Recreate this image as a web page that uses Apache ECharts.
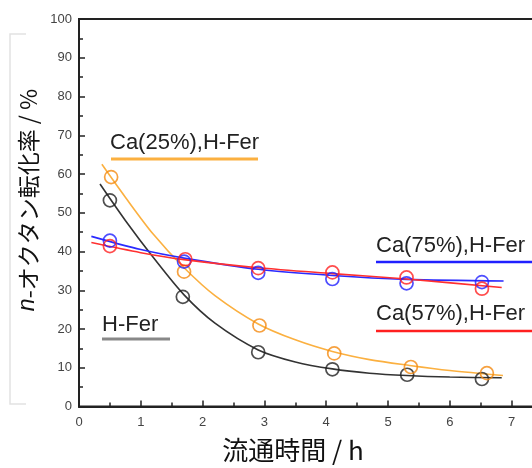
<!DOCTYPE html>
<html lang="ja">
<head>
    <meta charset="UTF-8">
    <title>n-オクタン転化率</title>
    <script src="https://cdn.jsdelivr.net/npm/echarts@6.0.0/dist/echarts.min.js"></script>
    <style>
        * { margin: 0; padding: 0; }
        body { background: #fff; }
        #chart { width: 532px; height: 468px; }
    </style>
</head>
<body>
<div id="chart"></div>
<script>
    // 測定点 (流通時間 h, 転化率 %)
    const hferX = [0.5, 1.68, 2.9, 4.1, 5.31, 6.52];
    const hferY = [53.2, 28.3, 14.0, 9.6, 8.2, 7.1];
    const ca25X = [0.52, 1.7, 2.92, 4.13, 5.37, 6.6];
    const ca25Y = [59.2, 34.8, 20.9, 13.7, 10.2, 8.6];
    const ca75X = [0.5, 1.7, 2.9, 4.1, 5.3, 6.52];
    const ca75Y = [42.8, 37.4, 34.5, 32.9, 31.8, 32.1];
    const ca57X = [0.5, 1.72, 2.9, 4.1, 5.3, 6.52];
    const ca57Y = [41.4, 38.0, 35.7, 34.6, 33.3, 30.4];

    // 近似曲線
    const hferFitX = [0.34, 0.75, 1.2, 1.7, 2.2, 2.9, 3.5, 4.1, 4.7, 5.3, 6.0, 6.84];
    const hferFitY = [57.4, 48.0, 38.5, 28.8, 21.5, 14.6, 11.5, 9.7, 8.6, 8.0, 7.6, 7.4];
    const ca25FitX = [0.37, 0.75, 1.2, 1.7, 2.2, 2.9, 3.5, 4.1, 4.7, 5.35, 6.0, 6.86];
    const ca25FitY = [62.5, 54.0, 44.5, 35.8, 28.6, 21.3, 17.2, 14.2, 12.1, 10.6, 9.3, 8.0];
    const ca75FitX = [0.2, 1.0, 1.7, 2.9, 4.1, 5.3, 6.87];
    const ca75FitY = [43.9, 40.5, 38.3, 35.4, 33.8, 32.8, 32.4];
    const ca57FitX = [0.2, 1.0, 1.7, 2.9, 4.1, 5.3, 6.84];
    const ca57FitY = [42.3, 39.7, 37.9, 35.8, 34.3, 32.9, 30.7];

    const xTicks = [0, 1, 2, 3, 4, 5, 6, 7, 8];
    const yTicks = [0, 10, 20, 30, 40, 50, 60, 70, 80, 90, 100];

    function pairs(xs, ys) {
        return xs.map(function (x, i) { return [x, ys[i]]; });
    }

    function points(name, xs, ys, color) {
        return {
            name: name,
            type: 'scatter',
            symbol: 'circle',
            symbolSize: 13,
            itemStyle: {color: 'rgba(0,0,0,0)', borderColor: color, borderWidth: 1.7},
            data: pairs(xs, ys),
            z: 3
        };
    }

    function curve(name, xs, ys, color) {
        return {
            name: name,
            type: 'line',
            smooth: 0.3,
            showSymbol: false,
            lineStyle: {color: color, width: 1.6},
            data: pairs(xs, ys),
            z: 2
        };
    }

    const labelFont = 'Liberation Sans, Arial, sans-serif';
    const jpFont = 'Noto Sans CJK JP, sans-serif';

    let chart = echarts.init(document.getElementById('chart'));

    let option = {
        animation: false,
        grid: {
            left: 79, top: 19, width: 494.4, height: 387.5,
            show: true, borderColor: '#222', borderWidth: 2,
            outerBoundsMode: 'none'
        },
        xAxis: {
            type: 'value', min: xTicks[0], max: xTicks[xTicks.length - 1], interval: 1,
            axisLine: {lineStyle: {color: '#222', width: 2}},
            axisTick: {inside: true, length: 6, lineStyle: {color: '#222', width: 1.5}},
            minorTick: {show: true, splitNumber: 2, length: 4, lineStyle: {color: '#222', width: 1.5}},
            splitLine: {show: false},
            axisLabel: {color: '#444', fontSize: 13, fontFamily: labelFont, margin: 9}
        },
        yAxis: {
            type: 'value', min: yTicks[0], max: yTicks[yTicks.length - 1], interval: 10,
            axisLine: {lineStyle: {color: '#222', width: 2}},
            axisTick: {inside: true, length: 6, lineStyle: {color: '#222', width: 1.5}},
            minorTick: {show: true, splitNumber: 2, length: 4, lineStyle: {color: '#222', width: 1.5}},
            splitLine: {show: false},
            axisLabel: {color: '#444', fontSize: 13, fontFamily: labelFont, margin: 7}
        },
        series: [
            curve('H-Fer fit', hferFitX, hferFitY, '#333'),
            curve('Ca(25%) fit', ca25FitX, ca25FitY, '#fbb040'),
            curve('Ca(75%) fit', ca75FitX, ca75FitY, '#2a2aff'),
            curve('Ca(57%) fit', ca57FitX, ca57FitY, '#ff3030'),
            points('H-Fer', hferX, hferY, '#222'),
            points('Ca(25%),H-Fer', ca25X, ca25Y, '#f48a10'),
            points('Ca(75%),H-Fer', ca75X, ca75Y, '#2020ff'),
            points('Ca(57%),H-Fer', ca57X, ca57Y, '#ff2020')
        ],
        graphic: [
            // 左側の薄い枠
            {type: 'polyline', shape: {points: [[26, 34], [10, 34], [10, 404], [26, 404]]},
                style: {stroke: '#e2e2e2', lineWidth: 1.5, fill: null}},
            // 軸タイトル
            {type: 'text', x: 28, y: 200, rotation: Math.PI / 2,
                style: {text: '{i|n}-オクタン転化率 / %', align: 'center', verticalAlign: 'middle',
                    font: '23px ' + jpFont, fill: '#111',
                    rich: {i: {fontStyle: 'italic', fontSize: 23, fontFamily: labelFont, fill: '#111'}}}},
            {type: 'text', x: 293, y: 450,
                style: {text: '流通時間 / h', align: 'center', verticalAlign: 'middle',
                    font: '26px ' + jpFont, fill: '#111'}},
            // 系列ラベル
            {type: 'text', x: 110, y: 143, style: {text: 'Ca(25%),H-Fer', verticalAlign: 'middle',
                    font: '22px ' + labelFont, fill: '#222'}},
            {type: 'line', shape: {x1: 111, y1: 159, x2: 258, y2: 159}, style: {stroke: '#fbb040', lineWidth: 3}},
            {type: 'text', x: 102, y: 325, style: {text: 'H-Fer', verticalAlign: 'middle',
                    font: '22px ' + labelFont, fill: '#222'}},
            {type: 'line', shape: {x1: 102, y1: 339, x2: 170, y2: 339}, style: {stroke: '#888', lineWidth: 3}},
            {type: 'text', x: 376, y: 246, style: {text: 'Ca(75%),H-Fer', verticalAlign: 'middle',
                    font: '22px ' + labelFont, fill: '#222'}},
            {type: 'line', shape: {x1: 376, y1: 262, x2: 532, y2: 262}, style: {stroke: '#2020ff', lineWidth: 2.5}},
            {type: 'text', x: 376, y: 314, style: {text: 'Ca(57%),H-Fer', verticalAlign: 'middle',
                    font: '22px ' + labelFont, fill: '#222'}},
            {type: 'line', shape: {x1: 376, y1: 331, x2: 532, y2: 331}, style: {stroke: '#ff2020', lineWidth: 2.5}}
        ]
    };

    chart.setOption(option);
</script>
</body>
</html>
